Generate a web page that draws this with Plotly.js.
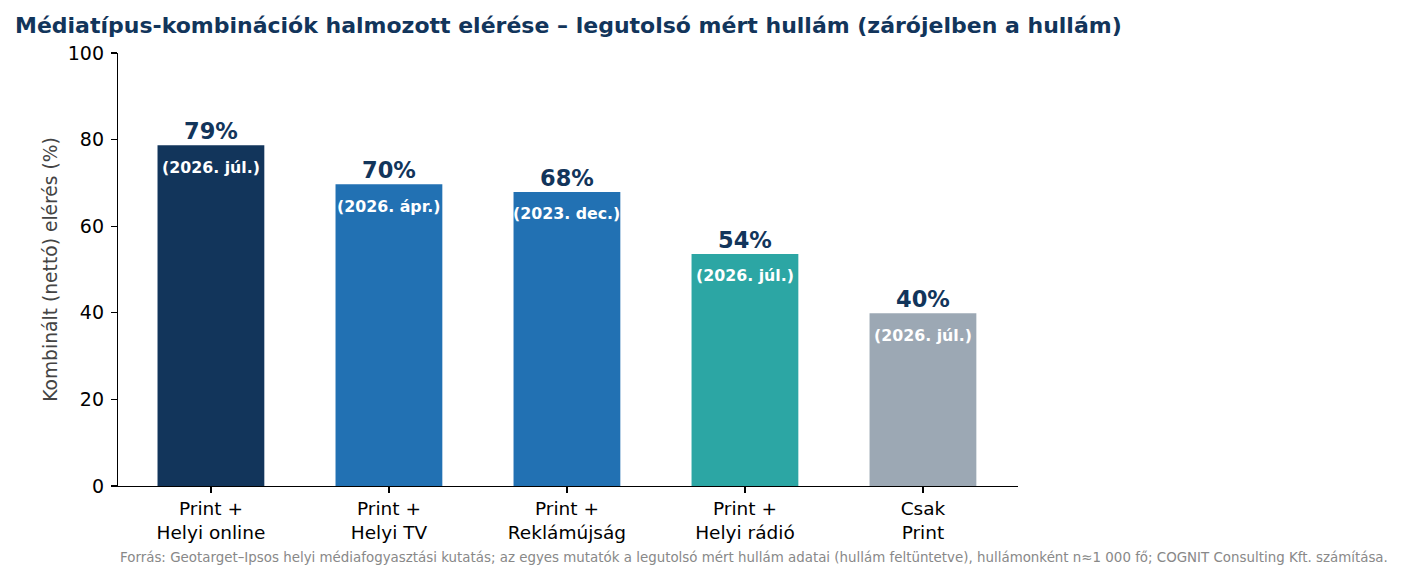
<!DOCTYPE html>
<html>
<head>
<meta charset="utf-8">
<script src="https://cdn.plot.ly/plotly-3.0.1.min.js"></script>
<style>html,body{margin:0;padding:0;background:#fff;}#chart{width:1405px;height:578px;}</style>
</head>
<body>
<div id="chart"></div>
<script>
const categories = ["Print +<br>Helyi online", "Print +<br>Helyi TV", "Print +<br>Reklámújság", "Print +<br>Helyi rádió", "Csak<br>Print"];
const reachValues = [78.7, 69.7, 67.9, 53.6, 39.9];
const valueLabels = ["79%", "70%", "68%", "54%", "40%"];
const waveLabels = ["(2026. júl.)", "(2026. ápr.)", "(2023. dec.)", "(2026. júl.)", "(2026. júl.)"];
const barColors = ["#12355b", "#2271b3", "#2271b3", "#2ca6a4", "#9ca8b4"];
const yTicks = [0, 20, 40, 60, 80, 100];

const FONT = "DejaVu Sans, sans-serif";
const xIdx = categories.map((c, i) => i);

const trace = {
  type: "bar",
  x: xIdx,
  y: reachValues,
  width: 0.6,
  marker: {color: barColors, line: {width: 0}},
  hoverinfo: "none"
};

const annotations = [];
xIdx.forEach((i) => {
  annotations.push({
    x: i, y: reachValues[i], xref: "x", yref: "y",
    text: "<b>" + valueLabels[i] + "</b>", showarrow: false,
    yanchor: "bottom", yshift: -1,
    font: {family: FONT, size: 22.5, color: "#12355b"}
  });
  annotations.push({
    x: i, y: reachValues[i], xref: "x", yref: "y",
    text: "<b>" + waveLabels[i] + "</b>", showarrow: false,
    yanchor: "middle", yshift: -22,
    font: {family: FONT, size: 15.8, color: "#ffffff"}
  });
});
annotations.push({
  x: 0, y: -0.165, xref: "paper", yref: "paper", xanchor: "left", yanchor: "middle",
  showarrow: false,
  text: "Forrás: Geotarget–Ipsos helyi médiafogyasztási kutatás; az egyes mutatók a legutolsó mért hullám adatai (hullám feltüntetve), hullámonként n≈1 000 fő; COGNIT Consulting Kft. számítása.",
  font: {family: FONT, size: 13.4, color: "#888888"}
});

const layout = {
  width: 1405, height: 578,
  margin: {l: 118, r: 387, t: 53, b: 92},
  paper_bgcolor: "#ffffff", plot_bgcolor: "#ffffff",
  showlegend: false,
  title: {
    text: "<b>Médiatípus-kombinációk halmozott elérése – legutolsó mért hullám (zárójelben a hullám)</b>",
    xref: "container", yref: "container", x: 15/1405, xanchor: "left", y: 1 - 25/578, yanchor: "middle",
    font: {family: FONT, size: 22, color: "#12355b"}
  },
  xaxis: {
    range: [-0.522, 4.534],
    tickmode: "array", tickvals: xIdx, ticktext: categories,
    showline: true, linecolor: "#000", linewidth: 1.2,
    ticks: "outside", ticklen: 6, tickcolor: "#000", tickwidth: 1.2,
    showgrid: false, zeroline: false,
    tickfont: {family: FONT, size: 18.5, color: "#000"}
  },
  yaxis: {
    range: [0, 100],
    tickmode: "array", tickvals: yTicks,
    showline: true, linecolor: "#000", linewidth: 1.2,
    ticks: "outside", ticklen: 6, tickcolor: "#000", tickwidth: 1.2,
    ticklabelstandoff: 3,
    showgrid: false, zeroline: false,
    tickfont: {family: FONT, size: 19, color: "#000"},
    title: {text: "Kombinált (nettó) elérés (%)", standoff: 5, font: {family: FONT, size: 18.7, color: "#444444"}}
  },
  annotations: annotations
};

Plotly.newPlot("chart", [trace], layout, {displayModeBar: false, staticPlot: true});
</script>
</body>
</html>
